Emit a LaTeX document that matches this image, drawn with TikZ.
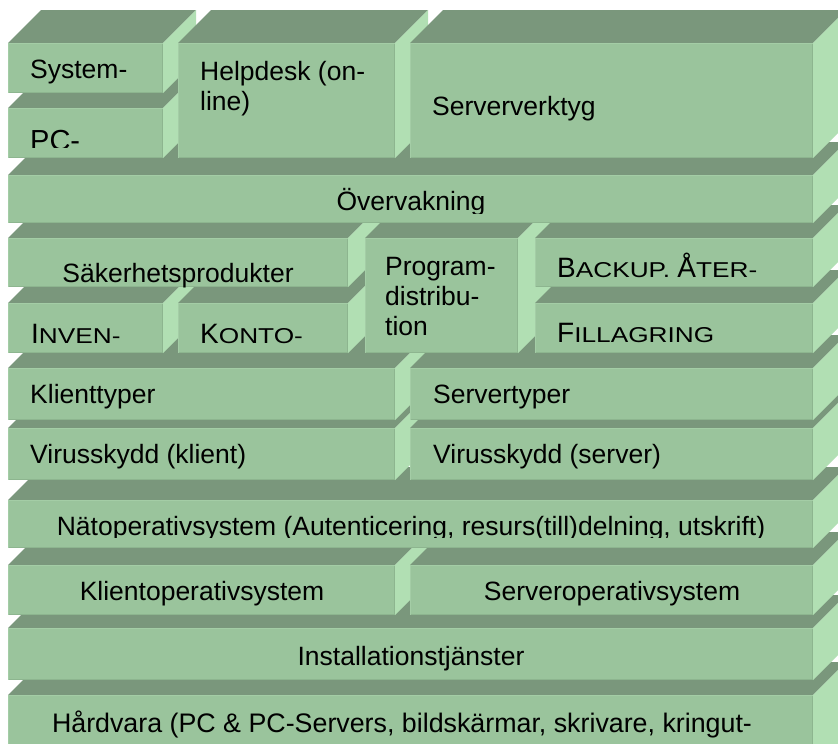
\documentclass[tikz,border=0pt]{standalone}
\usepackage{fontspec}
\setmainfont{Liberation Sans}
\definecolor{frontc}{HTML}{9AC49C}
\definecolor{topc}{HTML}{7A977C}
\definecolor{sidec}{HTML}{B1DFB3}
\definecolor{edgec}{HTML}{A4CDA6}
\definecolor{shadec}{HTML}{8DB58F}
\newcommand\blk[4]{%
  \fill[topc] (#1,#2) -- (#1+33,#2-33) -- (#3+33,#2-33) -- (#3,#2) -- cycle;
  \fill[sidec] (#3,#2) -- (#3+33,#2-33) -- (#3+33,#4-33) -- (#3,#4) -- cycle;
  \fill[frontc] (#1,#2) rectangle (#3,#4);
  \draw[edgec, line width=1pt] (#1+0.5,#4-0.5) -- (#1+0.5,#2+0.5) -- (#3-0.5,#2+0.5);
  \draw[shadec, line width=1pt] (#1+0.5,#4-0.5) -- (#3-0.5,#4-0.5) -- (#3-0.5,#2+0.5);
}
\newcommand\smc[1]{\scalebox{1.22}[1]{\fontsize{21.5}{24}\selectfont #1}}
\newcommand\bgc[1]{{\fontsize{28}{32}\selectfont #1}}
\tikzset{lbl/.style={font=\fontsize{26.5}{31.8}\selectfont, inner sep=0pt, text=black}}
\begin{document}
\begin{tikzpicture}[x=1pt,y=-1pt]
\useasboundingbox (0,0) rectangle (838,744);
\fill[white] (0,0) rectangle (838,744);
\clip (0,0) rectangle (838,744);
% bottom rows
\blk{8}{695}{813}{780}
\node[lbl,anchor=base,font=\fontsize{26.8}{32}\selectfont] (hw) at (402,732) {Hårdvara (PC \& PC-Servers, bildskärmar, skrivare, kringut-};
\blk{8}{628}{813}{680}
\node[lbl,anchor=base] (inst) at (411,665) {Installationstjänster};
\blk{8}{565}{395}{615}
\node[lbl,anchor=base] (kos) at (202,600) {Klientoperativsystem};
\blk{410}{565}{813}{615}
\node[lbl,anchor=base] (sos) at (612,600) {Serveroperativsystem};
\blk{8}{500}{813}{548}
\begin{scope}
\clip (8,500) rectangle (813,537);
\node[lbl,anchor=base] (nos) at (411,535) {Nätoperativsystem (Autenticering, resurs(till)delning, utskrift)};
\end{scope}
\blk{8}{428}{395}{480}
\node[lbl,anchor=base west] (vk) at (30,463) {Virusskydd (klient)};
\blk{410}{428}{813}{480}
\node[lbl,anchor=base west] (vs) at (433,463) {Virusskydd (server)};
\blk{8}{368}{395}{420}
\node[lbl,anchor=base west] (kt) at (30,403) {Klienttyper};
\blk{410}{368}{813}{420}
\node[lbl,anchor=base west] (st) at (433,403) {Servertyper};
% middle block
\blk{8}{303}{163}{353}
\begin{scope}
\clip (8,303) rectangle (163,344);
\node[lbl,anchor=base west] (inv) at (31,343) {\bgc{I}\smc{NVEN-}};
\end{scope}
\blk{178}{303}{348}{353}
\begin{scope}
\clip (178,303) rectangle (348,344);
\node[lbl,anchor=base west] (kon) at (200,343) {\bgc{K}\smc{ONTO-}};
\end{scope}
\blk{8}{238}{348}{287}
\node[lbl,anchor=base] (sak) at (178,282) {Säkerhetsprodukter};
\blk{365}{238}{518}{353}
\node[lbl,anchor=base west] (pd1) at (385,275) {Program-};
\node[lbl,anchor=base west] (pd2) at (385,305) {distribu-};
\node[lbl,anchor=base west] (pd3) at (385,335) {tion};
\blk{535}{303}{813}{353}
\begin{scope}
\clip (535,303) rectangle (813,343);
\node[lbl,anchor=base west] (fil) at (557,342) {\bgc{F}\smc{ILLAGRING}};
\end{scope}
\blk{535}{238}{813}{287}
\begin{scope}
\clip (535,238) rectangle (813,278);
\node[lbl,anchor=base west] (bak) at (557,277) {\bgc{B}\smc{ACKUP.\ }\bgc{Å}\smc{TER-}};
\end{scope}
% Övervakning
\blk{8}{175}{813}{223}
\begin{scope}
\clip (8,175) rectangle (813,213);
\node[lbl,anchor=base] (ove) at (411,210) {Övervakning};
\end{scope}
% top row
\blk{8}{108}{163}{158}
\begin{scope}
\clip (8,108) rectangle (163,147);
\node[lbl,anchor=base west,font=\fontsize{29}{34}\selectfont] (pc) at (30,150) {PC-};
\end{scope}
\blk{8}{43}{163}{93}
\node[lbl,anchor=base west] (sys) at (30,78) {System-};
\blk{178}{43}{395}{158}
\node[lbl,anchor=base west] (hd1) at (200,80) {Helpdesk (on-};
\node[lbl,anchor=base west] (hd2) at (200,110) {line)};
\blk{410}{43}{813}{158}
\node[lbl,anchor=base west] (svt) at (432,115) {Serververktyg};
\end{tikzpicture}
\end{document}
